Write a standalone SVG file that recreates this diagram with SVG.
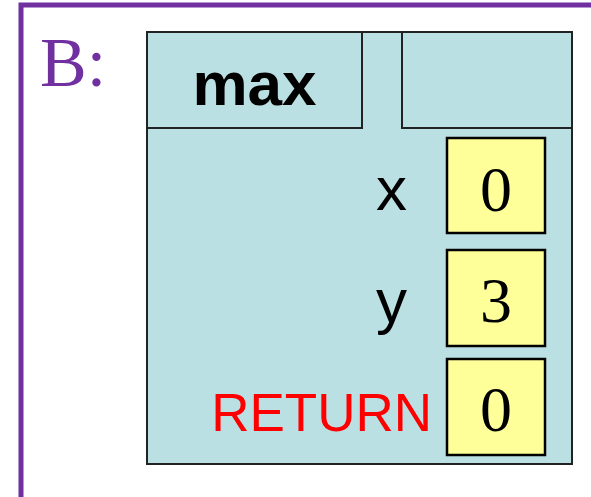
<svg xmlns="http://www.w3.org/2000/svg" width="591" height="497" viewBox="0 0 591 497">
<style>
.frame{fill:#BBE0E3;stroke:#222;stroke-width:2}
.box{fill:#FFFF99;stroke:#000;stroke-width:2.5}
.lbl{font-family:"Liberation Sans",Arial,sans-serif;font-size:62px;fill:#000}
.val{font-family:"Liberation Serif","Times New Roman",serif;font-size:64px;fill:#000;text-anchor:middle}
</style>
<rect width="591" height="497" fill="#fff"/>
<g id="outer">
<path d="M21,505 V5 H600" fill="none" stroke="#7030A0" stroke-width="5"/>
<text x="40" y="86" font-family="'Liberation Serif','Times New Roman',serif" font-size="70" fill="#7030A0">B:</text>
</g>
<g id="frame-max">
<rect class="frame" x="147" y="32" width="425" height="432"/>
<rect class="frame" x="147" y="32" width="215" height="96"/>
<rect class="frame" x="402" y="32" width="170" height="96"/>
<text x="254.5" y="105" text-anchor="middle" font-family="'Liberation Sans',Arial,sans-serif" font-size="62" font-weight="bold">max</text>
</g>
<g id="var-x">
<text class="lbl" x="407" y="210" text-anchor="end">x</text>
<rect class="box" x="447" y="138" width="98" height="95"/>
<text class="val" x="496" y="211">0</text>
</g>
<g id="var-y">
<text class="lbl" x="407" y="322" text-anchor="end">y</text>
<rect class="box" x="447" y="250" width="98" height="96"/>
<text class="val" x="496" y="322">3</text>
</g>
<g id="var-return">
<text x="432" y="431" text-anchor="end" font-family="'Liberation Sans',Arial,sans-serif" font-size="53" fill="#FF0000">RETURN</text>
<rect class="box" x="447" y="359" width="98" height="96"/>
<text class="val" x="496" y="431">0</text>
</g>
</svg>
